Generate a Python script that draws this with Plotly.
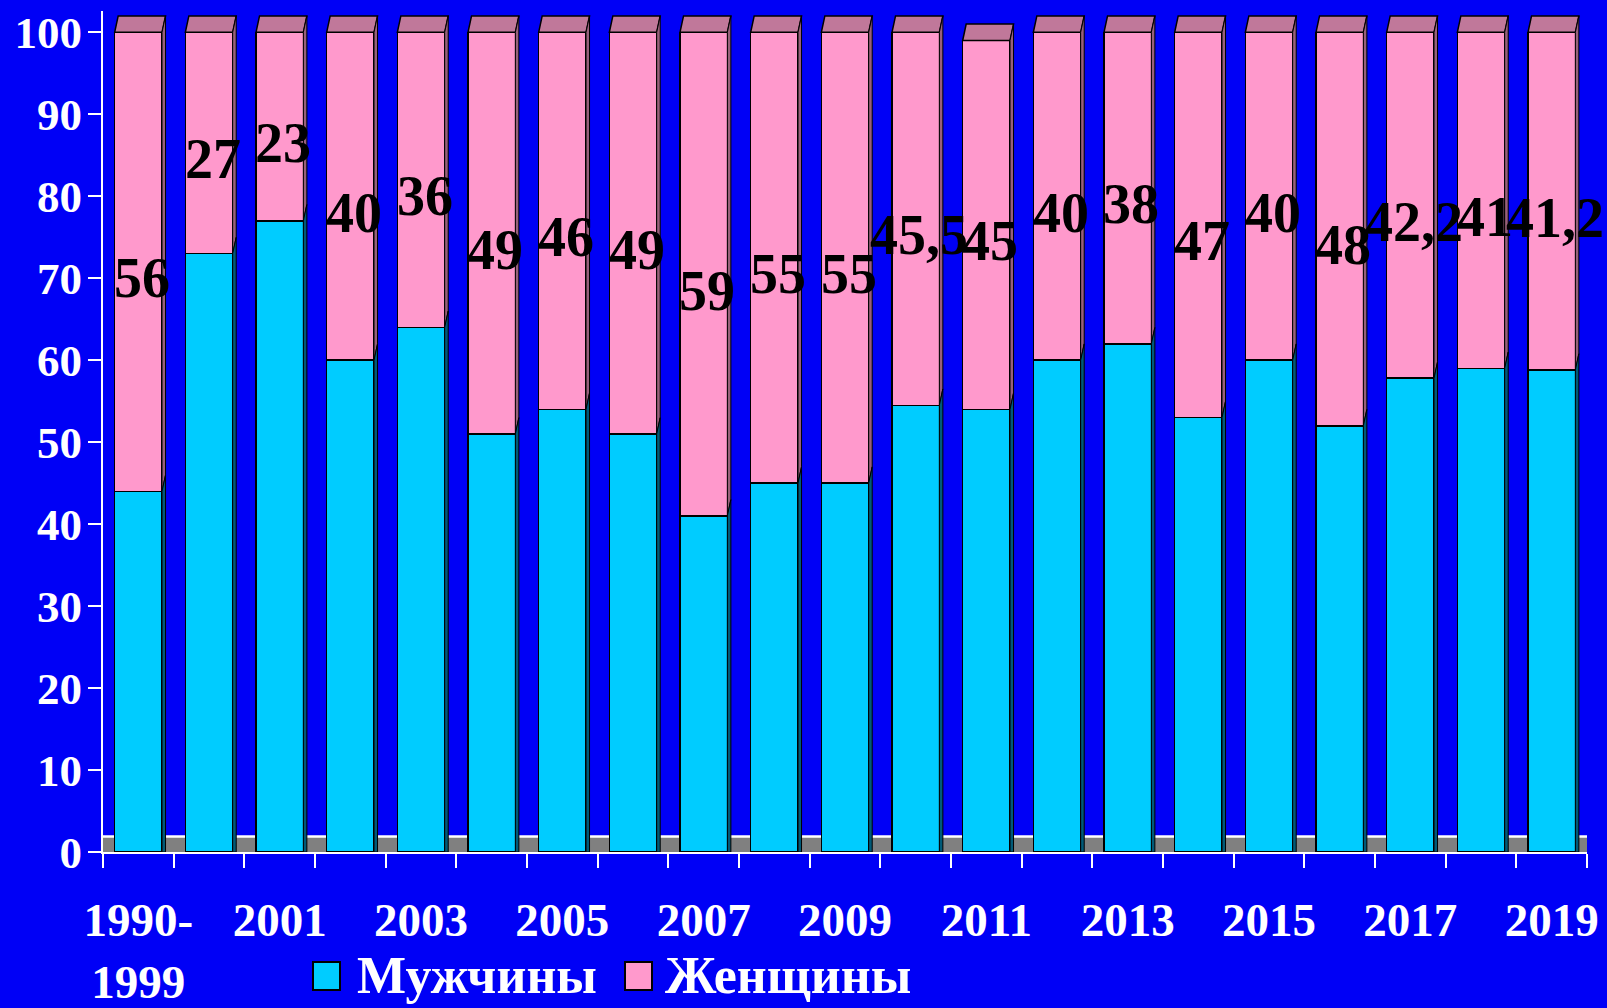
import plotly.graph_objects as go

categories = ["1990-1999", "2000", "2001", "2002", "2003", "2004", "2005", "2006",
              "2007", "2008", "2009", "2010", "2011", "2012", "2013", "2014",
              "2015", "2016", "2017", "2018", "2019"]
men = [44, 73, 77, 60, 64, 51, 54, 51, 41, 45, 45, 54.5, 54, 60, 62, 53, 60, 52, 57.8, 59, 58.8]
women = [56, 27, 23, 40, 36, 49, 46, 49, 59, 55, 55, 45.5, 45, 40, 38, 47, 40, 48, 42.2, 41, 41.2]
tick_text = ["1990-<br>1999", "2001", "2003", "2005", "2007", "2009", "2011",
             "2013", "2015", "2017", "2019"]
series_names = ["Мужчины", "Женщины"]

BLUE = "#0000F6"
CYAN = "#00CCFF"
PINK = "#FF99CC"
CAP = "#C0789A"
SIDE_PINK = "#98607A"
SIDE_CYAN = "#005A78"
FONT = "Liberation Serif, Times New Roman, serif"

W, H = 1607, 1008
ML, MR, MT, MB = 103, 20, 11, 156
PW, PH = W - ML - MR, H - MT - MB

x = list(range(len(categories)))
BW = 0.67
DX = 0.05
DY = 2.0

fig = go.Figure()
fig.add_trace(go.Bar(x=x, y=men, name=series_names[0], width=BW,
                     marker=dict(color=CYAN, line=dict(color="black", width=1.5)),
                     showlegend=False))
fig.add_trace(go.Bar(x=x, y=women, name=series_names[1], width=BW,
                     marker=dict(color=PINK, line=dict(color="black", width=1.5)),
                     showlegend=False))

shapes = []
# floor
shapes.append(dict(type="rect", xref="x", yref="y", x0=-0.5, x1=20.5, y0=0, y1=1.9,
                   fillcolor="#808080", line=dict(width=0), layer="below"))
shapes.append(dict(type="line", xref="x", yref="y", x0=-0.5, x1=20.5, y0=1.9, y1=1.9,
                   line=dict(color="white", width=2.5), layer="below"))
for i, (m, w) in enumerate(zip(men, women)):
    t = m + w
    xl, xr = i - BW / 2, i + BW / 2
    shapes.append(dict(type="path", xref="x", yref="y",
                       path=f"M{xl},{t} L{xl+DX},{t+DY} L{xr+DX},{t+DY} L{xr},{t} Z",
                       fillcolor=CAP, line=dict(color="black", width=1.5)))
    shapes.append(dict(type="path", xref="x", yref="y",
                       path=f"M{xr},{m} L{xr},{t} L{xr+DX},{t+DY} L{xr+DX},{m+DY} Z",
                       fillcolor=SIDE_PINK, line=dict(color="black", width=1)))
    shapes.append(dict(type="path", xref="x", yref="y",
                       path=f"M{xr},0 L{xr},{m} L{xr+DX},{m+DY} L{xr+DX},0 Z",
                       fillcolor=SIDE_CYAN, line=dict(color="black", width=1)))

annotations = []
for i, (m, w) in enumerate(zip(men, women)):
    annotations.append(dict(x=i + 0.05, y=m + w / 2 - 2, xref="x", yref="y",
                            text=f"{w:g}".replace(".", ","), showarrow=False,
                            font=dict(family=FONT, size=56, color="black", weight="bold")))

# custom legend (paper coordinates from pixel positions)
def px_x(p):
    return (p - ML) / PW

def px_y(p):
    return (H - MB - p) / PH

legend_items = [(313, 355, CYAN, series_names[0]), (625, 663, PINK, series_names[1])]
for sx, tx, col, name in legend_items:
    shapes.append(dict(type="rect", xref="paper", yref="paper",
                       x0=px_x(sx), x1=px_x(sx + 27), y0=px_y(990), y1=px_y(962),
                       fillcolor=col, line=dict(color="black", width=2)))
    annotations.append(dict(x=px_x(tx), y=px_y(975), xref="paper", yref="paper",
                            xanchor="left", yanchor="middle", text=name, showarrow=False,
                            font=dict(family=FONT, size=52, color="white", weight="bold")))

fig.update_layout(
    width=W, height=H,
    margin=dict(l=ML, r=MR, t=MT, b=MB, autoexpand=False),
    paper_bgcolor=BLUE, plot_bgcolor=BLUE,
    barmode="stack", bargap=0.33,
    shapes=shapes, annotations=annotations,
    showlegend=False,
    xaxis=dict(range=[-0.5, 20.5], tickmode="array", tickvals=x[::2], ticktext=tick_text,
               ticks="outside", ticklen=14, tickcolor="rgba(0,0,0,0)",
               ticklabelstandoff=12, automargin=False,
               minor=dict(tickmode="array", tickvals=[k - 0.5 for k in range(22)],
                          ticks="outside", ticklen=14, tickcolor="white", tickwidth=1.5,
                          showgrid=False),
               showline=True, linecolor="white", linewidth=2, showgrid=False,
               zeroline=False,
               tickfont=dict(family=FONT, size=47, color="white", weight="bold")),
    yaxis=dict(range=[0, 102.6], tickmode="array", tickvals=list(range(0, 101, 10)),
               ticks="outside", ticklen=13, tickcolor="white", tickwidth=1.5,
               ticklabelstandoff=-3, automargin=False,
               showline=True, linecolor="white", linewidth=2, showgrid=False,
               zeroline=False,
               tickfont=dict(family=FONT, size=45, color="white", weight="bold")),
)

fig.write_html("out.html", config={"displayModeBar": False},
               post_script="document.body.style.margin='0';")
